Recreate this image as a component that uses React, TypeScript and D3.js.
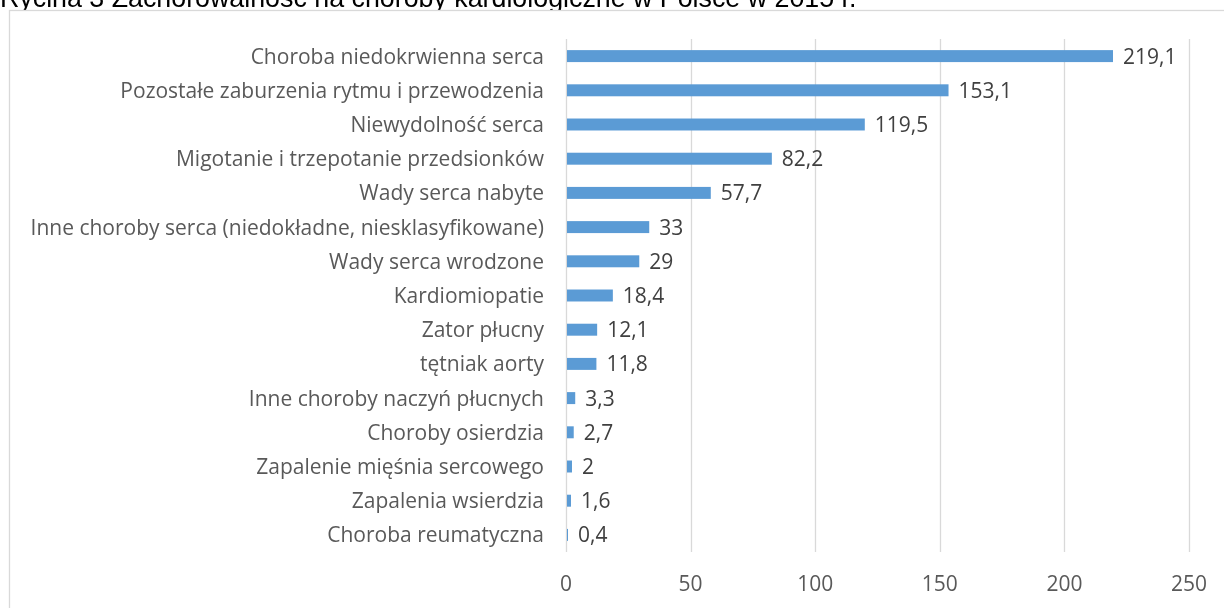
import { useEffect, useRef } from "react";
import * as d3 from "d3";

const categories = [
  "Choroba niedokrwienna serca",
  "Pozostałe zaburzenia rytmu i przewodzenia",
  "Niewydolność serca",
  "Migotanie i trzepotanie przedsionków",
  "Wady serca nabyte",
  "Inne choroby serca (niedokładne, niesklasyfikowane)",
  "Wady serca wrodzone",
  "Kardiomiopatie",
  "Zator płucny",
  "tętniak aorty",
  "Inne choroby naczyń płucnych",
  "Choroby osierdzia",
  "Zapalenie mięśnia sercowego",
  "Zapalenia wsierdzia",
  "Choroba reumatyczna",
];

const values = [219.1, 153.1, 119.5, 82.2, 57.7, 33, 29, 18.4, 12.1, 11.8, 3.3, 2.7, 2, 1.6, 0.4];

const xTicks = [0, 50, 100, 150, 200, 250];

const title = "Rycina 3 Zachorowalność na choroby kardiologiczne w Polsce w 2015 r.";

export default function App() {
  const ref = useRef<SVGSVGElement | null>(null);

  useEffect(() => {
    if (!ref.current) return;
    const width = 1224;
    const height = 608;
    const plot = { left: 566, right: 1189, top: 39, bottom: 552 };
    const font = "'Open Sans', sans-serif";
    const fontSize = 21;

    const svg = d3.select(ref.current);
    svg.selectAll("*").remove();

    svg.append("rect").attr("width", width).attr("height", height).attr("fill", "#fff");

    // title, cut by the top of the picture
    svg
      .append("text")
      .attr("x", 0)
      .attr("y", 6.5)
      .attr("font-family", "'Liberation Sans', Arial, sans-serif")
      .attr("font-size", 26.8)
      .attr("fill", "#000")
      .text(title);

    // chart frame
    svg
      .append("rect")
      .attr("x", 9.5)
      .attr("y", 10.5)
      .attr("width", width + 10)
      .attr("height", height + 10)
      .attr("fill", "#fff")
      .attr("stroke", "#d9d9d9")
      .attr("stroke-width", 1.3);

    const x = d3.scaleLinear().domain([0, 250]).range([plot.left, plot.right]);
    const y = d3
      .scaleBand<string>()
      .domain(categories)
      .range([plot.top, plot.bottom])
      .paddingInner(0.65)
      .paddingOuter(0.325);

    // gridlines
    svg
      .append("g")
      .selectAll("line")
      .data(xTicks)
      .join("line")
      .attr("x1", (d) => Math.round(x(d)) + 0.5)
      .attr("x2", (d) => Math.round(x(d)) + 0.5)
      .attr("y1", plot.top)
      .attr("y2", plot.bottom)
      .attr("stroke", "#d9d9d9")
      .attr("stroke-width", 1.3);

    // bars
    svg
      .append("g")
      .selectAll("rect")
      .data(values)
      .join("rect")
      .attr("x", x(0) + 1)
      .attr("y", (_, i) => y(categories[i]) ?? 0)
      .attr("width", (d) => x(d) - x(0))
      .attr("height", y.bandwidth())
      .attr("fill", "#5b9bd5");

    // value labels
    svg
      .append("g")
      .selectAll("text")
      .data(values)
      .join("text")
      .attr("x", (d) => x(d) + 11)
      .attr("y", (_, i) => (y(categories[i]) ?? 0) + y.bandwidth() / 2)
      .attr("dy", "0.36em")
      .attr("font-family", font)
      .attr("font-size", fontSize)
      .attr("fill", "#404040")
      .text((d) => d3.format("")(d).replace(".", ","));

    // category labels
    svg
      .append("g")
      .selectAll("text")
      .data(categories)
      .join("text")
      .attr("x", plot.left - 22)
      .attr("y", (d) => (y(d) ?? 0) + y.bandwidth() / 2)
      .attr("dy", "0.36em")
      .attr("text-anchor", "end")
      .attr("font-family", font)
      .attr("font-size", fontSize)
      .attr("fill", "#595959")
      .text((d) => d);

    // x tick labels
    svg
      .append("g")
      .selectAll("text")
      .data(xTicks)
      .join("text")
      .attr("x", (d) => x(d))
      .attr("y", 583)
      .attr("dy", "0.36em")
      .attr("text-anchor", "middle")
      .attr("font-family", font)
      .attr("font-size", fontSize)
      .attr("fill", "#595959")
      .text((d) => d);
  }, []);

  return (
    <svg
      ref={ref}
      width={1224}
      height={608}
      style={{ position: "fixed", left: 0, top: 0, display: "block" }}
    />
  );
}
